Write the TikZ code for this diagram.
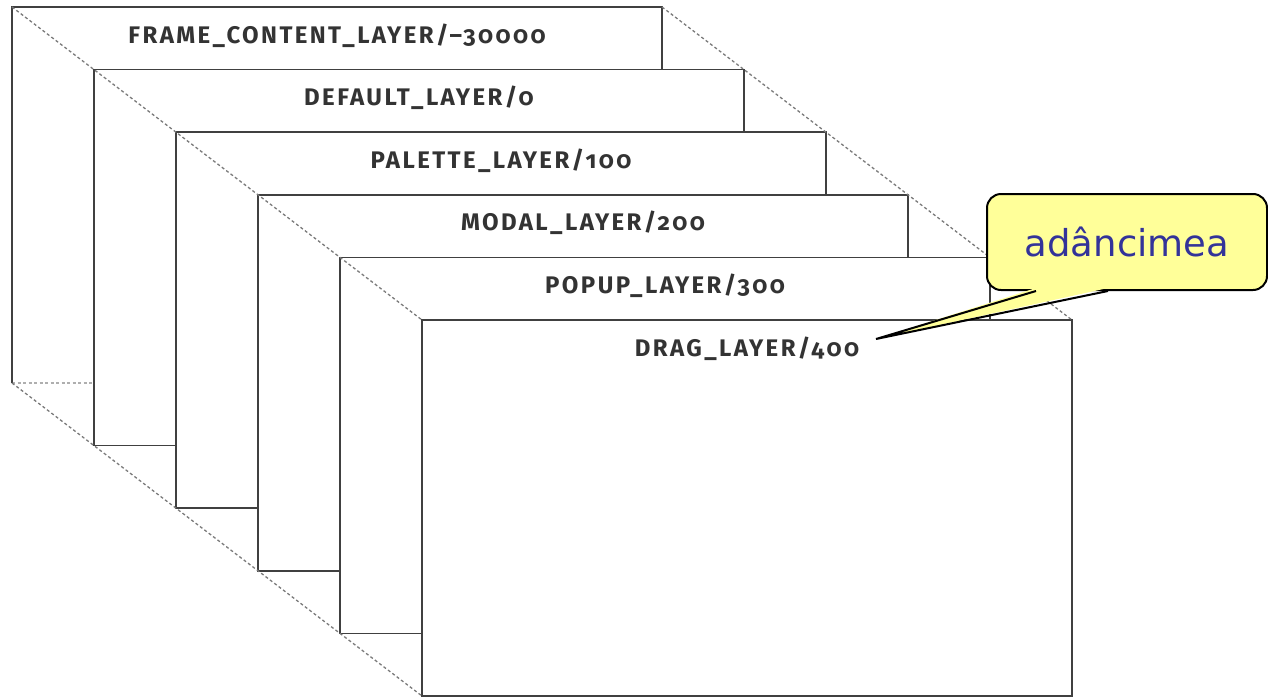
\documentclass[tikz,border=0pt]{standalone}
\usepackage{fontspec}
\setmainfont{DejaVu Sans}
\newfontfamily\layerfont[Numbers=OldStyle,LetterSpace=10]{Fira Sans}
\newfontfamily\notefont{DejaVu Sans}
\usepackage{tikz}
\usetikzlibrary{positioning}
\definecolor{cedge}{HTML}{404040}
\definecolor{cdash}{HTML}{7A7A7A}
\definecolor{ctext}{HTML}{333333}
\definecolor{cnote}{HTML}{FFFF99}
\definecolor{cnotetxt}{HTML}{333399}
\tikzset{
 layer/.style={rectangle, draw=cedge, fill=white, line width=1.6pt, outer sep=0pt,
 inner sep=0pt, minimum width=650pt, minimum height=376pt},
 lname/.style={anchor=base, inner sep=0pt, text=ctext,
 font=\layerfont\bfseries\fontsize{24}{28}\selectfont},
 hid/.style={draw=cdash, line width=1.3pt, dash pattern=on 3pt off 2.5pt},
 edge/.style={draw=cedge, line width=1.6pt},
 note/.style={rectangle, rounded corners=14pt, draw=black, line width=2pt, fill=cnote,
 minimum width=280pt, minimum height=96pt, text=cnotetxt,
 font=\notefont\fontsize{37}{42}\selectfont},
}

\begin{document}
\begin{tikzpicture}[x=1pt, y=-1pt]
 \clip (0,0) rectangle (1268,696);
 % back layer, bottom edge hidden
 \node[layer, draw=none, anchor=north west] (L1) at (12,7) {};
 \draw[hid, draw=cdash!60] (L1.south west) -- (L1.south east);
 \draw[edge] (L1.south west) -- (L1.north west) -- (L1.north east) -- (L1.south east);
 \node[lname] (n1) at ([yshift=-36pt]L1.north) {FRAME\_CONTENT\_LAYER/–30000};

 \node[layer, below right=62.6pt and 82pt of L1.north west] (L2) {};
 \node[lname] (n2) at ([yshift=-36pt]L2.north) {DEFAULT\_LAYER/0};
 \node[layer, below right=62.6pt and 82pt of L2.north west] (L3) {};
 \node[lname] (n3) at ([yshift=-36pt]L3.north) {PALETTE\_LAYER/100};
 \node[layer, below right=62.6pt and 82pt of L3.north west] (L4) {};
 \node[lname] (n4) at ([yshift=-36pt]L4.north) {MODAL\_LAYER/200};
 \node[layer, below right=62.6pt and 82pt of L4.north west] (L5) {};
 \node[lname] (n5) at ([yshift=-36pt]L5.north) {POPUP\_LAYER/300};
 \node[layer, below right=62.6pt and 82pt of L5.north west] (L6) {};
 \node[lname] (n6) at ([yshift=-36pt]L6.north) {DRAG\_LAYER/400};

 % depth guides
 \draw[hid] (L1.north west) -- (L6.north west);
 \draw[hid] (L1.north east) -- (L6.north east);
 \draw[hid] (L1.south west) -- (L6.south west);

 % callout
 \node[note, anchor=north west] (depth) at (986,193) {adâncimea};
 \coordinate (ptr) at (876,339);
 \fill[cnote] ([xshift=-91pt,yshift=3pt]depth.south) -- (ptr) -- ([xshift=-19pt,yshift=3pt]depth.south) -- cycle;
 \draw[line width=2pt, line join=miter] ([xshift=-91pt]depth.south) -- (ptr) -- ([xshift=-19pt]depth.south);
\end{tikzpicture}
\end{document}
